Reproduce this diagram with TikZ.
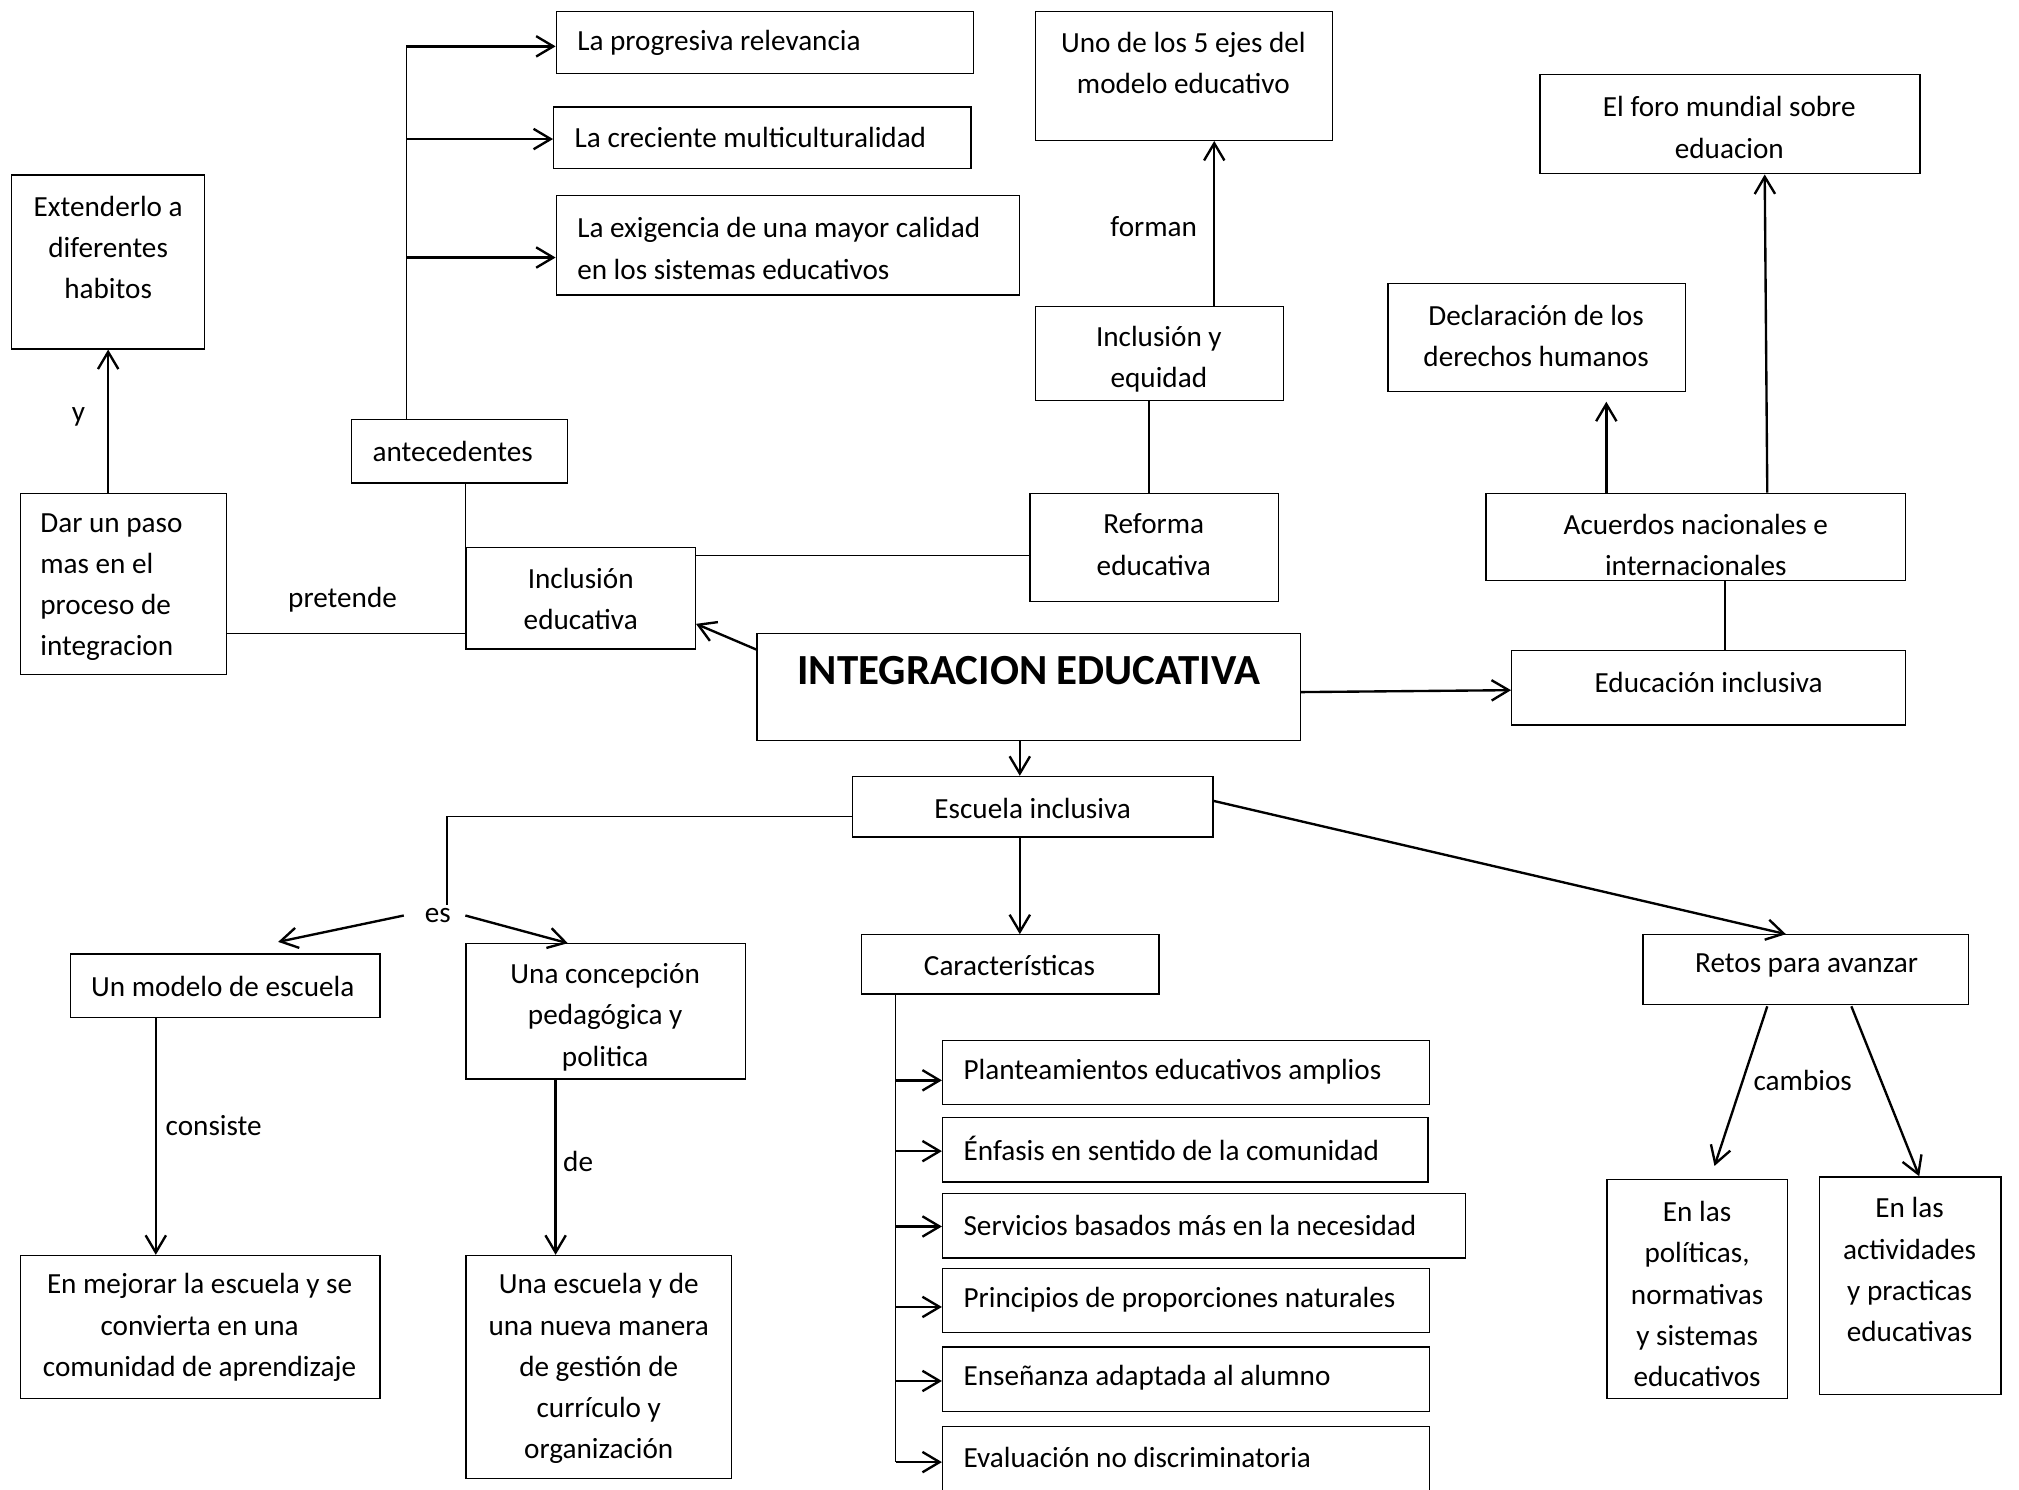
\documentclass[tikz,border=0pt]{standalone}
\usepackage{fontspec}
\setmainfont{Carlito}
\usetikzlibrary{arrows.meta,fit,calc}
\begin{document}
\begin{tikzpicture}[x=0.6pt,y=-0.6pt,
  box/.style={draw, line width=0.6pt, inner sep=0pt, fit={#1}},
  txt/.style={inner sep=0pt, yshift=-1.2pt, font=\fontsize{13.6}{19.2}\selectfont, align=center},
  ltxt/.style={txt, align=left, anchor=west},
  lbl/.style={inner sep=0pt, yshift=-1.2pt, font=\fontsize{13.6}{19.2}\selectfont},
  arr/.style={line width=1.1pt, -{Straight Barb[length=8pt,width=9.5pt]}},
  ln/.style={line width=0.7pt}]
\useasboundingbox (0,0) rectangle (1568,1157);
\clip (0,0) rectangle (1568,1157);
\fill[white] (0,0) rectangle (1568,1157);

% boxes
\node[box={(432,9) (756,57)}] (prog) {};
\node[box={(430,83) (754,131)}] (multi) {};
\node[box={(432,152) (792,229)}] (exig) {};
\node[box={(804,9) (1035,109)}] (ejes) {};
\node[box={(1196,58) (1491,135)}] (foro) {};
\node[box={(9,136) (159,271)}] (ext) {};
\node[box={(1078,220) (1309,304)}] (decl) {};
\node[box={(804,238) (997,311)}] (incleq) {};
\node[box={(273,326) (441,375)}] (antec) {};
\node[box={(16,383) (176,524)}] (dar) {};
\node[box={(800,383) (993,467)}] (reforma) {};
\node[box={(1154,383) (1480,451)}] (acuerdos) {};
\node[box={(362,425) (540,504)}] (inclEd) {};
\node[box={(588,492) (1010,575)}] (title) {};
\node[box={(1174,505) (1480,563)}] (edinc) {};
\node[box={(662,603) (942,650)}] (escuela) {};
\node[box={(55,741) (295,790)}] (modelo) {};
\node[box={(362,733) (579,838)}] (concep) {};
\node[box={(669,726) (900,772)}] (caract) {};
\node[box={(1276,726) (1529,780)}] (retos) {};
\node[box={(732,808) (1110,858)}] (plan) {};
\node[box={(732,868) (1109,918)}] (enf) {};
\node[box={(732,927) (1138,977)}] (serv) {};
\node[box={(732,985) (1110,1035)}] (princ) {};
\node[box={(732,1046) (1110,1096)}] (ense) {};
\node[box={(732,1108) (1110,1163)}] (eval) {};
\node[box={(16,975) (295,1086)}] (mejorar) {};
\node[box={(362,975) (568,1148)}] (unaesc) {};
\node[box={(1248,916) (1388,1086)}] (politicas) {};
\node[box={(1413,914) (1554,1083)}] (actividades) {};

% texts
\node[ltxt] (t-prog) at (448,31) {La progresiva relevancia};
\node[ltxt] (t-multi) at (446,105) {La creciente multiculturalidad};
\node[ltxt] (t-exig) at (448,191) {La exigencia de una mayor calidad\\en los sistemas educativos};
\node[txt] (t-ejes) at (919,47) {Uno de los 5 ejes del\\modelo educativo};
\node[txt] (t-foro) at (1343,97) {El foro mundial sobre\\eduacion};
\node[txt] (t-ext) at (84,190) {Extenderlo a\\diferentes\\habitos};
\node[txt] (t-decl) at (1193,259) {Declaración de los\\derechos humanos};
\node[txt] (t-incleq) at (900,277) {Inclusión y\\equidad};
\node[ltxt] (t-antec) at (289,349) {antecedentes};
\node[ltxt] (t-dar) at (31,454) {Dar un paso\\mas en el\\proceso de\\integracion};
\node[txt] (t-reforma) at (896,421) {Reforma\\educativa};
\node[txt] (t-acuerdos) at (1317,421) {Acuerdos nacionales e\\internacionales};
\node[txt] (t-inclEd) at (451,463) {Inclusión\\educativa};
\node[inner sep=0pt, font=\fontsize{20}{24}\selectfont\bfseries] (t-title) at (799,521) {INTEGRACION EDUCATIVA};
\node[txt] (t-edinc) at (1327,528) {Educación inclusiva};
\node[txt] (t-escuela) at (802,626) {Escuela inclusiva};
\node[txt] (t-modelo) at (173,764) {Un modelo de escuela};
\node[txt] (t-concep) at (470,788) {Una concepción\\pedagógica y\\politica};
\node[txt] (t-caract) at (784,748) {Características};
\node[txt] (t-retos) at (1403,748) {Retos para avanzar};
\node[ltxt] (t-plan) at (748,830) {Planteamientos educativos amplios};
\node[ltxt] (t-enf) at (748,890) {Énfasis en sentido de la comunidad};
\node[ltxt] (t-serv) at (748,950) {Servicios basados más en la necesidad};
\node[ltxt] (t-princ) at (748,1007) {Principios de proporciones naturales};
\node[ltxt] (t-ense) at (748,1068) {Enseñanza adaptada al alumno};
\node[ltxt] (t-eval) at (748,1130) {Evaluación no discriminatoria};
\node[txt] (t-mejorar) at (155,1029) {En mejorar la escuela y se\\convierta en una\\comunidad de aprendizaje};
\node[txt] (t-unaesc) at (465,1061) {Una escuela y de\\una nueva manera\\de gestión de\\currículo y\\organización};
\node[txt] (t-politicas) at (1318,1003) {En las\\políticas,\\normativas\\y sistemas\\educativos};
\node[txt] (t-actividades) at (1483,984) {En las\\actividades\\y practicas\\educativas};

% labels
\node[lbl] (l-y) at (61,322) {y};
\node[lbl] (l-pretende) at (266,464) {pretende};
\node[lbl] (l-forman) at (896,174) {forman};
\node[lbl] (es) at (340,709) {es};
\node[lbl] (l-consiste) at (166,872) {consiste};
\node[lbl] (l-de) at (449,900) {de};
\node[lbl] (l-cambios) at (1400,837) {cambios};

% antecedentes tree
\coordinate (a0) at ($(antec.north west)+(43,0)$);
\coordinate (a1) at ($(prog.west)+(0,3)$);
\coordinate (a2) at ($(multi.west)+(0,1)$);
\coordinate (a3) at ($(exig.west)+(0,9.5)$);
\draw[ln] (a0) -- (a0 |- a1);
\draw[arr] (a0 |- a1) -- (a1);
\draw[arr] (a0 |- a2) -- (a2);
\draw[arr] (a0 |- a3) -- (a3);

% dar -> ext
\draw[arr] (ext.south |- dar.north) -- (ext.south);
% dar -- inclEd
\coordinate (b1) at ($(inclEd.south west)+(0,-12.5)$);
\draw[ln] (b1 -| dar.east) -- (b1);
% antec -- inclEd
\draw[ln] (inclEd.north west) -- (inclEd.north west |- antec.south);
% inclEd -- reforma
\coordinate (b2) at ($(inclEd.north east)+(0,7)$);
\draw[ln] (b2) -- (b2 -| reforma.west);
% reforma -- incleq
\coordinate (b3) at ($(reforma.north)+(-4,0)$);
\draw[ln] (b3) -- (b3 |- incleq.south);
% incleq -> ejes
\coordinate (b4) at ($(incleq.north)+(42.5,0)$);
\draw[arr] (b4) -- (b4 |- ejes.south);

% acuerdos
\coordinate (c1) at ($(acuerdos.north west)+(94,0)$);
\draw[arr, shorten >=4.5pt] (c1) -- (c1 |- decl.south);
\draw[arr] ($(acuerdos.north west)+(219,0)$) -- ($(foro.south)+(27,0)$);
\coordinate (c2) at ($(acuerdos.south)+(22.5,0)$);
\draw[ln] (c2) -- (c2 |- edinc.north);

% title
\draw[arr] ($(title.north west)+(0,13)$) -- ($(inclEd.east)+(0,20)$);
\draw[arr] ($(title.east)+(0,4)$) -- ($(edinc.west)+(0,2)$);
\coordinate (d1) at ($(title.south)+(-7,0)$);
\draw[arr] (d1) -- (d1 |- escuela.north);

% escuela
\coordinate (d2) at ($(escuela.south)+(-10,0)$);
\draw[arr] (d2) -- (d2 |- caract.north);
\draw[arr] ($(escuela.east)+(0,-4.5)$) -- ($(retos.north)+(-15.5,0)$);
\coordinate (e1) at ($(escuela.west)+(0,7.5)$);
\coordinate (e2) at ($(es.north)+(7,-2.5)$);
\draw[ln] (e1) -| (e2);
\draw[arr] ($(es.west)+(-16,0)$) -- ($(modelo.north)+(41,-9)$);
\draw[arr] ($(es.east)+(11,0)$) -- ($(concep.north)+(-29.5,0)$);

% modelo / concep
\coordinate (f1) at ($(modelo.south)+(-54,0)$);
\draw[arr] (f1) -- (f1 |- mejorar.north);
\coordinate (f2) at ($(concep.south)+(-39,0)$);
\draw[arr] (f2) -- (f2 |- unaesc.north);

% caracteristicas list
\coordinate (g0) at ($(caract.south west)+(27,0)$);
\draw[ln] (g0) -- (g0 |- eval.west);
\coordinate (h1) at ($(plan.west)+(0,6)$);
\coordinate (h2) at ($(enf.west)+(0,1)$);
\coordinate (h3) at ($(serv.west)+(0,0.5)$);
\coordinate (h4) at ($(princ.west)+(0,5)$);
\coordinate (h5) at ($(ense.west)+(0,1.5)$);
\coordinate (h6) at (eval.west);
\foreach \h in {h1,h2,h3,h4,h5,h6}{\draw[arr] (g0 |- \h) -- (\h);}

% retos
\draw[arr] ($(retos.south)+(-30,1)$) -- ($(politicas.north)+(13.5,-10)$);
\draw[arr] ($(retos.south)+(35.3,1)$) -- ($(actividades.north)+(7,0)$);
\end{tikzpicture}
\end{document}
